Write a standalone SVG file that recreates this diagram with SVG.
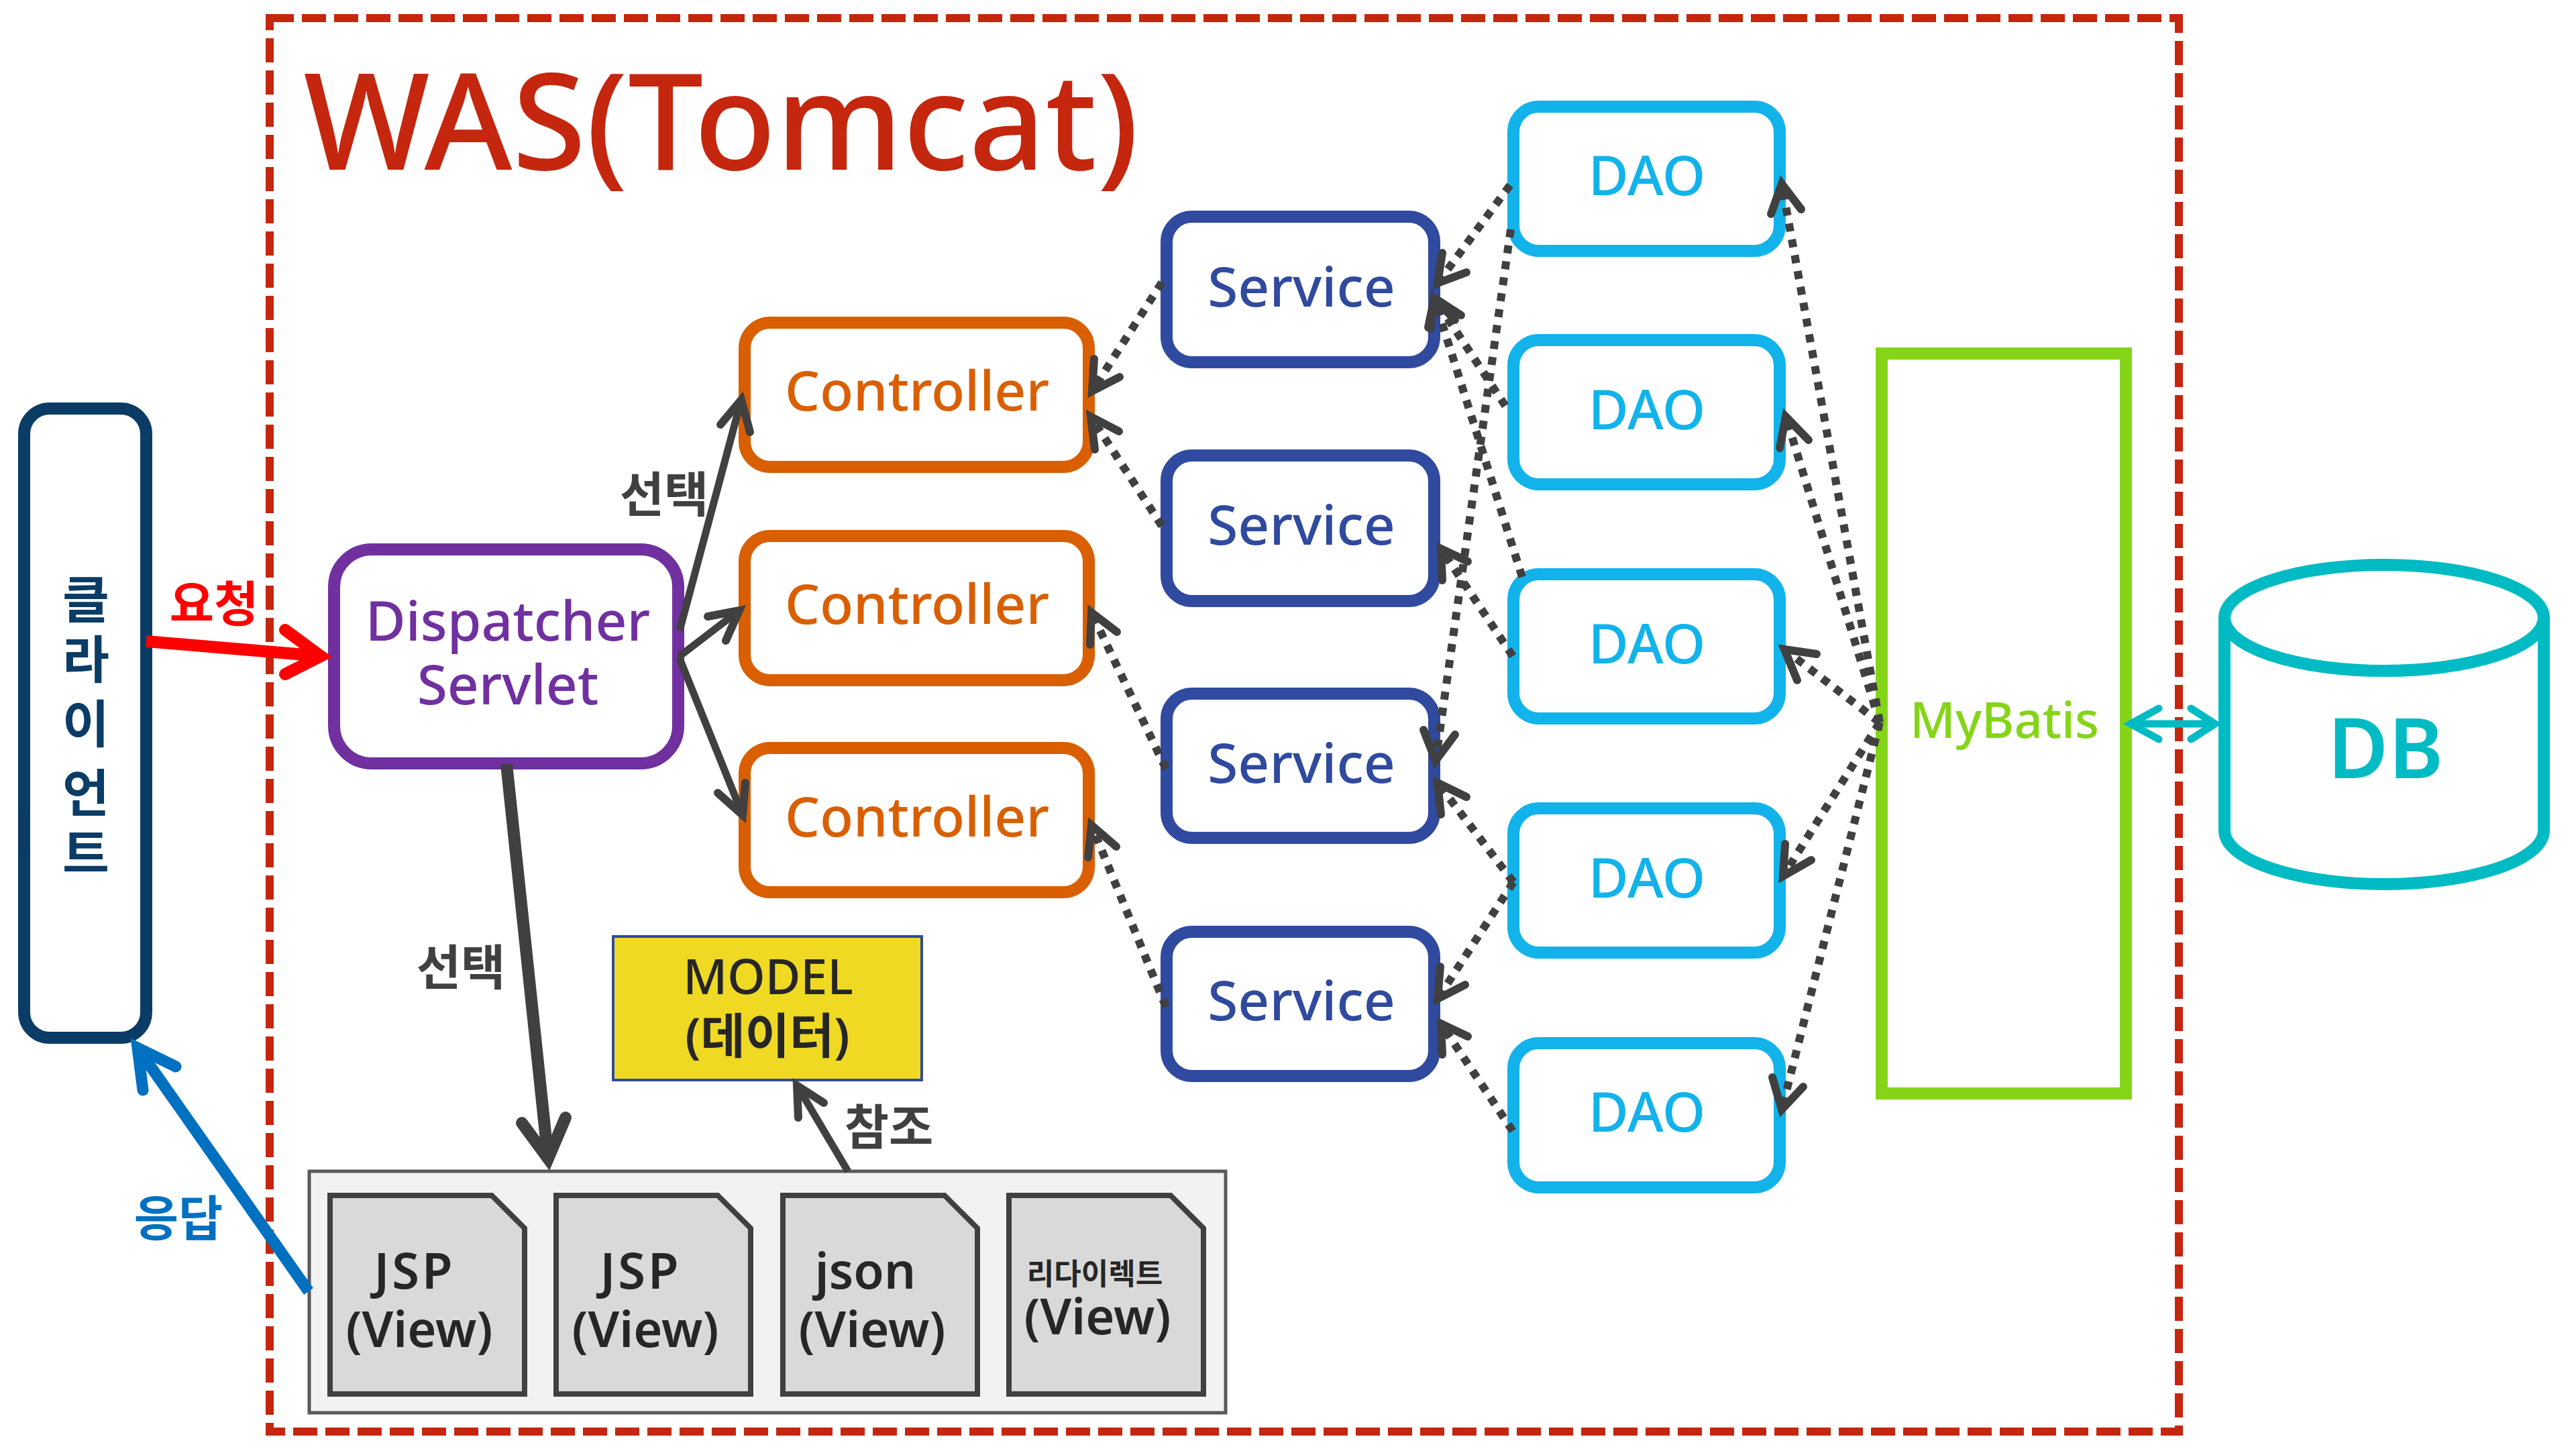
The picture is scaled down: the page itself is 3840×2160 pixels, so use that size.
<svg xmlns="http://www.w3.org/2000/svg" width="3840" height="2160" viewBox="0 0 3840 2160">
<style>
text{font-family:"Noto Sans","Noto Sans CJK KR",sans-serif;text-anchor:middle;font-weight:500}
.kr{font-family:"Noto Sans CJK KR","Noto Sans",sans-serif;font-weight:700}
.box{fill:#fff;stroke-width:18}
.l{font-size:82px}
.ctl rect{stroke:#d95f02}.ctl text{fill:#d95f02}
.svc rect{stroke:#2f4a9e}.svc text{fill:#2f4a9e}
.dao rect{stroke:#12b3eb}.dao text{fill:#12b3eb}
.file path{fill:#d9d9d9;stroke:#404040;stroke-width:8}
.file text{fill:#262626;font-size:74px;font-weight:600}
.a{fill:none;stroke:#404040;stroke-width:11}
.h{fill:none;stroke:#404040;stroke-width:12;stroke-linecap:round;stroke-linejoin:miter;stroke-miterlimit:12}
.d{fill:none;stroke:#404040;stroke-width:12;stroke-dasharray:12 12}
.lab{fill:#404040;font-size:72px}
</style>
<rect x="402" y="27" width="2846" height="2107" fill="none" stroke="#c5260e" stroke-width="12" stroke-dasharray="36 12"/>
<text x="1075" y="253" font-size="200" fill="#c5260e">WAS(Tomcat)</text>
<g id="client"><rect class="box" x="36" y="609" width="182" height="938" rx="38" stroke="#0a3c66"/>
<text class="kr" x="128" font-size="76" fill="#0a3c66"><tspan x="128" y="922">클</tspan><tspan x="128" y="1011">라</tspan><tspan x="128" y="1107">이</tspan><tspan x="128" y="1210">언</tspan><tspan x="128" y="1300">트</tspan></text></g>
<g id="dispatcher"><rect class="box" x="498" y="819" width="513" height="319" rx="56" stroke="#7030a0"/>
<text class="l" x="757" y="955" fill="#7030a0">Dispatcher</text><text class="l" x="757" y="1050" fill="#7030a0">Servlet</text></g>
<g id="controller1" class="ctl"><rect class="box" x="1110" y="481" width="513" height="215" rx="38"/><text class="l" x="1367" y="612">Controller</text></g>
<g id="controller2" class="ctl"><rect class="box" x="1110" y="799" width="513" height="215" rx="38"/><text class="l" x="1367" y="930">Controller</text></g>
<g id="controller3" class="ctl"><rect class="box" x="1110" y="1115" width="513" height="215" rx="38"/><text class="l" x="1367" y="1247">Controller</text></g>
<g id="service1" class="svc"><rect class="box" x="1739" y="323" width="399" height="217" rx="38"/><text class="l" x="1940" y="457">Service</text></g>
<g id="service2" class="svc"><rect class="box" x="1739" y="679" width="399" height="217" rx="38"/><text class="l" x="1940" y="812">Service</text></g>
<g id="service3" class="svc"><rect class="box" x="1739" y="1034" width="399" height="215" rx="38"/><text class="l" x="1940" y="1167">Service</text></g>
<g id="service4" class="svc"><rect class="box" x="1739" y="1389" width="399" height="215" rx="38"/><text class="l" x="1940" y="1521">Service</text></g>
<g id="dao1" class="dao"><rect class="box" x="2256" y="159" width="397" height="215" rx="38"/><text class="l" x="2455" y="291">DAO</text></g>
<g id="dao2" class="dao"><rect class="box" x="2256" y="507" width="397" height="215" rx="38"/><text class="l" x="2455" y="640">DAO</text></g>
<g id="dao3" class="dao"><rect class="box" x="2256" y="856" width="397" height="215" rx="38"/><text class="l" x="2455" y="989">DAO</text></g>
<g id="dao4" class="dao"><rect class="box" x="2256" y="1205" width="397" height="215" rx="38"/><text class="l" x="2455" y="1338">DAO</text></g>
<g id="dao5" class="dao"><rect class="box" x="2256" y="1555" width="397" height="215" rx="38"/><text class="l" x="2455" y="1687">DAO</text></g>
<g id="mybatis"><rect x="2805" y="527" width="364" height="1103" fill="#fff" stroke="#84d518" stroke-width="18"/><text x="2988" y="1100" font-size="74" fill="#84d518">MyBatis</text></g>
<g id="db" fill="none" stroke="#00bbc3" stroke-width="18"><path d="M3316 921V1238A238 80 0 0 0 3792 1238V921" fill="#fff"/><ellipse cx="3554" cy="921" rx="238" ry="79" fill="#fff"/><text x="3556" y="1160" font-size="124" fill="#00bbc3" stroke="none" style="font-weight:600">DB</text></g>
<g id="model"><rect x="914" y="1396" width="460" height="214" fill="#efd923" stroke="#2f4a9e" stroke-width="4"/><text x="1145" y="1482" font-size="72" fill="#262626">MODEL</text><text x="1144" y="1570" font-size="72" fill="#262626" style="font-weight:600">(데이터)</text></g>
<g id="views"><rect x="461" y="1746" width="1366" height="360" fill="#f2f2f2" stroke="#595959" stroke-width="5"/>
<g id="view1" class="file"><path d="M492 1782H733L782 1831V2078H492Z"/><text x="618" y="1921" letter-spacing="4">JSP</text><text x="625" y="2008">(View)</text></g>
<g id="view2" class="file"><path d="M829 1782H1070L1119 1831V2078H829Z"/><text x="955" y="1921" letter-spacing="4">JSP</text><text x="962" y="2008">(View)</text></g>
<g id="view3" class="file"><path d="M1167 1782H1408L1457 1831V2078H1167Z"/><text x="1290" y="1921">json</text><text x="1300" y="2008">(View)</text></g>
<g id="view4" class="file"><path d="M1504 1782H1745L1794 1831V2078H1504Z"/><text class="kr" x="1632" y="1915" style="font-size:44px">리다이렉트</text><text x="1636" y="1989">(View)</text></g></g>
<g id="connectors">
<g id="solid">
<path d="M218 956L478 978" fill="none" stroke="#f00" stroke-width="18"/><path d="M425 939L478 978L425 1005" fill="none" stroke="#f00" stroke-width="18" stroke-linecap="round" stroke-miterlimit="12"/>
<path class="a" d="M1013 940L1105 596"/><path class="h" d="M1074 633L1105 596L1118 644"/>
<path class="a" d="M1012 979L1102 910"/><path class="h" d="M1055 919L1102 910L1082 955"/>
<path class="a" d="M1012 979L1107 1215"/><path class="h" d="M1070 1182L1107 1215L1111 1167"/>
<path class="a" style="stroke-width:18" d="M755 1139L817 1727"/><path class="h" style="stroke-width:18" d="M778 1674L817 1727L843 1666"/>
<path class="a" d="M1264 1746L1188 1618"/><path class="h" d="M1190 1666L1188 1618L1228 1644"/>
<path d="M460 1925L205 1562" fill="none" stroke="#0070c0" stroke-width="17"/><path d="M213 1625L205 1562L262 1590" fill="none" stroke="#0070c0" stroke-width="17" stroke-linecap="round" stroke-miterlimit="12"/>
<path d="M3176 1079H3302" fill="none" stroke="#00bbc3" stroke-width="11"/><path d="M3218 1056L3176 1079L3218 1102M3266 1056L3302 1079L3266 1102" fill="none" stroke="#00bbc3" stroke-width="11" stroke-linecap="round" stroke-miterlimit="12"/>
</g>
<g id="dotted">
<path class="d" d="M1732 421L1628 583"/><path class="h" d="M1631 535L1628 583L1669 562"/>
<path class="d" d="M1732 784L1626 621"/><path class="h" d="M1632 670L1626 621L1668 643"/>
<path class="d" d="M1738 1146L1627 913"/><path class="h" d="M1625 961L1627 913L1665 942"/>
<path class="d" d="M1738 1501L1627 1230"/><path class="h" d="M1622 1278L1627 1230L1664 1262"/>
<path class="d" d="M2251 276L2143 422"/><path class="h" d="M2150 377L2143 422L2186 406"/>
<path class="d" d="M2244 605L2138 444"/><path class="h" d="M2132 490L2138 444L2178 470"/>
<path class="d" d="M2269 860L2138 445"/><path class="h" d="M2129 488L2138 445L2169 477"/>
<path class="d" d="M2252 342L2140 1134"/><path class="h" d="M2122 1088L2140 1134L2169 1095"/>
<path class="d" d="M2255 978L2148 818"/><path class="h" d="M2150 865L2148 818L2188 837"/>
<path class="d" d="M2256 1315L2143 1167"/><path class="h" d="M2148 1214L2143 1167L2186 1188"/>
<path class="d" d="M2256 1315L2143 1489"/><path class="h" d="M2147 1441L2143 1489L2184 1468"/>
<path class="d" d="M2255 1686L2148 1526"/><path class="h" d="M2150 1572L2148 1526L2188 1545"/>
<path class="d" d="M2802 1077L2656 274"/><path class="h" d="M2640 319L2656 274L2685 312"/>
<path class="d" d="M2802 1077L2662 621"/><path class="h" d="M2653 668L2662 621L2696 656"/>
<path class="d" d="M2802 1077L2660 968"/><path class="h" d="M2708 975L2660 968L2679 1014"/>
<path class="d" d="M2802 1077L2658 1306"/><path class="h" d="M2661 1258L2658 1306L2700 1282"/>
<path class="d" d="M2802 1077L2656 1654"/><path class="h" d="M2642 1606L2656 1654L2688 1620"/>
</g>
</g>
<text class="kr lab" x="990" y="763">선택</text>
<text class="kr lab" x="687" y="1468">선택</text>
<text class="kr lab" x="1325" y="1706">참조</text>
<text class="kr" x="319" y="926" font-size="72" fill="#f00">요청</text>
<text class="kr" x="266" y="1842" font-size="72" fill="#0070c0">응답</text>
</svg>
